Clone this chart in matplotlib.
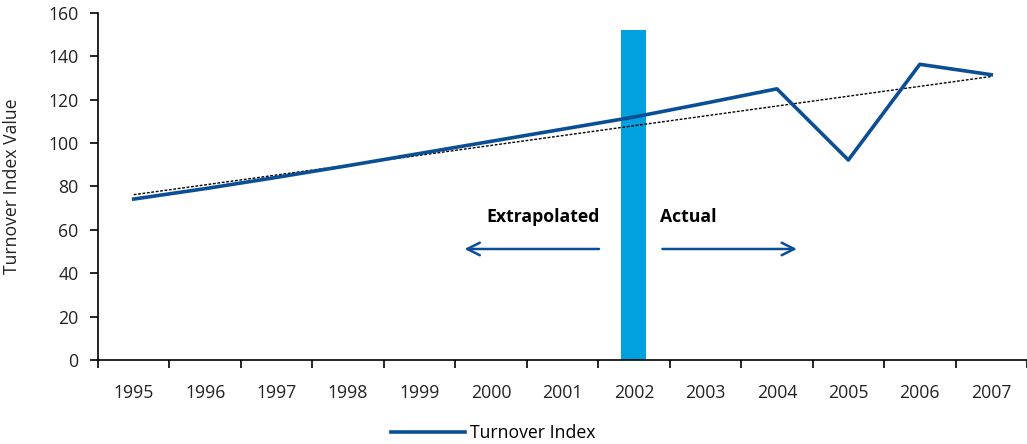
import numpy as np
import matplotlib.pyplot as plt

plt.rcParams['font.family'] = ['Open Sans', 'DejaVu Sans']

years = ['1995', '1996', '1997', '1998', '1999', '2000', '2001',
         '2002', '2003', '2004', '2005', '2006', '2007']
turnover = [74.2, 79.0, 84.2, 89.6, 95.2, 100.8, 106.4,
            112.0, 118.4, 125.0, 92.2, 136.3, 131.5]
split_year = '2002'
split_height = 152

line_color = '#0a4f96'
bar_color = '#00a1de'

fig = plt.figure(figsize=(10.27, 4.44), dpi=100)
ax = fig.add_axes([0.0954, 0.189, 0.9046, 0.782])

x = np.arange(len(years))

# vertical marker at the split year
ax.bar(years.index(split_year), split_height, width=0.35, color=bar_color, zorder=1)

# trend line (linear fit)
coef = np.polyfit(x, turnover, 1)
ax.plot(x, np.polyval(coef, x), color='black', linestyle=(0, (2, 1.2)), linewidth=1.0, zorder=2)

ax.plot(x, turnover, color=line_color, linewidth=2.6, label='Turnover Index', zorder=3)

# annotations
ax.text(4.94, 66, 'Extrapolated', fontsize=12.7, fontweight='bold', va='center', ha='left')
ax.text(7.37, 66, 'Actual', fontsize=12.7, fontweight='bold', va='center', ha='left')
arrow = dict(arrowstyle='->,head_length=0.9,head_width=0.45', color=line_color, lw=1.8)
ax.annotate('', xy=(4.59, 51.2), xytext=(6.55, 51.2), arrowprops=arrow)
ax.annotate('', xy=(9.32, 51.2), xytext=(7.36, 51.2), arrowprops=arrow)

ax.set_xlim(-0.5, len(years) - 0.5)
ax.set_ylim(0, 160)
ax.set_yticks(np.arange(0, 161, 20))
ax.set_xticks(x)
ax.set_xticklabels(years)
ax.set_xticks(np.arange(-0.5, len(years), 1), minor=True)
ax.tick_params(axis='x', which='major', length=0, pad=17, labelsize=12.7, colors='#222222')
ax.tick_params(axis='x', which='minor', length=6, width=1.2, direction='out')
ax.tick_params(axis='y', length=6, width=1.2, direction='out', pad=8, labelsize=12.7, colors='#222222')
ax.tick_params(axis='both', which='both', color='black')

for s in ['top', 'right']:
    ax.spines[s].set_visible(False)
for s in ['left', 'bottom']:
    ax.spines[s].set_linewidth(1.2)

ax.set_ylabel('Turnover Index Value', fontsize=12.7, color='#222222', labelpad=20)

fig.legend(loc='center', bbox_to_anchor=(0.48, 0.025), frameon=False, fontsize=12.7,
           handlelength=4.2, handletextpad=0.3)

fig.savefig('out.png', dpi=100)
